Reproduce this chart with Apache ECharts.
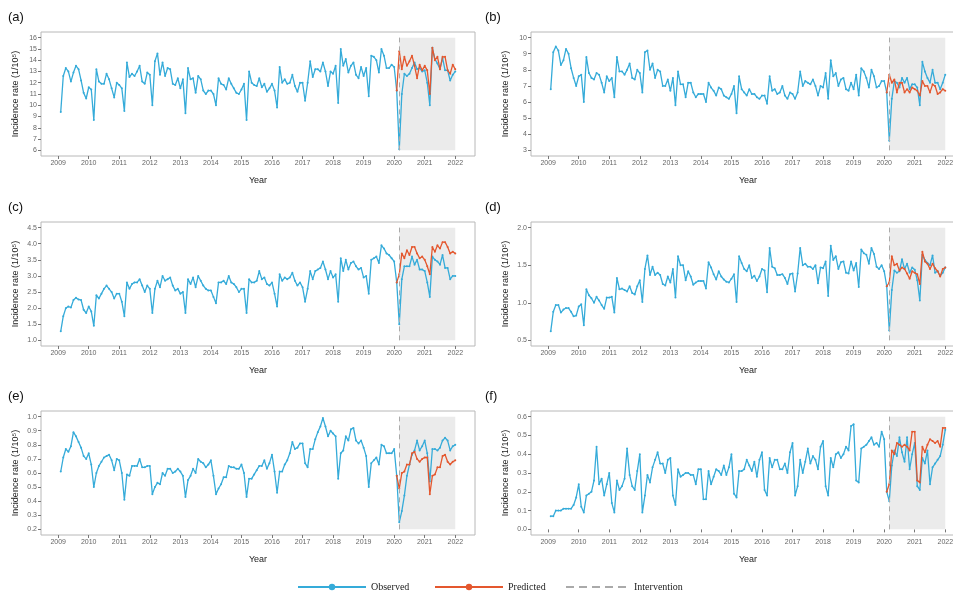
<!DOCTYPE html>
<html><head><meta charset="utf-8">
<script src="https://cdn.jsdelivr.net/npm/echarts@6/dist/echarts.min.js"></script>
<style>html,body{margin:0;padding:0;background:#fff}#c{width:953px;height:594px}</style>
</head><body><div id="c"></div>
<script>
// ---- data (monthly, Jan 2009 .. Dec 2021) ----
const panelLabels = ['(a)', '(b)', '(c)', '(d)', '(e)', '(f)'];
const xTickYears = [2009, 2010, 2011, 2012, 2013, 2014, 2015, 2016, 2017, 2018, 2019, 2020, 2021, 2022];
const startYear = 2009;
const nMonths = 156;
const predStartIndex = 132; // Jan 2020
const interventionX = 2020 + 2 / 12;
const shadeEndX = 2022;

const obsA = [
  9.4, 12.6, 13.3, 13.0, 12.1, 12.9, 13.5, 13.2, 12.2, 11.1, 10.6, 11.6,
  11.4, 8.7, 13.2, 12.1, 11.9, 11.9, 12.8, 12.3, 11.5, 10.7, 12.0, 11.8,
  11.5, 9.5, 13.8, 12.5, 12.8, 12.6, 13.0, 13.5, 12.1, 11.9, 12.9, 12.7,
  10.0, 13.9, 14.6, 12.7, 13.8, 12.6, 13.3, 13.2, 11.9, 11.8, 12.4, 11.5,
  12.3, 9.3, 13.3, 12.3, 12.4, 11.1, 12.6, 12.3, 11.3, 11.0, 11.3, 11.3,
  11.0, 10.0, 12.4, 11.9, 11.8, 11.4, 12.4, 11.9, 11.5, 11.1, 11.0, 11.4,
  11.9, 8.7, 13.0, 12.0, 11.8, 11.7, 12.4, 11.6, 11.9, 11.2, 11.5, 11.9,
  11.3, 9.8, 13.4, 12.0, 12.3, 11.9, 12.0, 12.7, 11.7, 11.2, 12.0, 12.0,
  10.4, 12.0, 13.9, 12.5, 13.2, 13.2, 13.0, 13.8, 13.0, 11.7, 13.0, 12.8,
  13.5, 10.2, 15.0, 13.5, 14.1, 12.9, 13.5, 13.8, 12.7, 12.4, 13.4, 12.6,
  13.3, 10.8, 14.4, 14.3, 14.0, 12.9, 15.0, 14.4, 13.3, 13.3, 13.6, 13.4,
  11.3, 6.1, 11.0, 12.8, 12.6, 12.8, 13.3, 13.8, 13.2, 13.3, 13.0, 13.1,
  12.0, 10.0, 15.1, 14.1, 13.7, 13.2, 14.2, 13.1, 13.1, 12.2, 12.7, 13.0
];
const predA = [
  11.3, 14.8, 13.2, 14.3, 13.5, 13.9, 14.4, 13.5, 12.4, 13.6, 13.1, 13.5,
  13.1, 11.0, 15.1, 14.0, 14.3, 13.2, 14.3, 14.3, 13.1, 12.8, 13.6, 13.2
];
const obsB = [
  6.8, 9.1, 9.45, 9.2, 8.3, 8.6, 9.3, 9.0, 8.1, 7.5, 7.0, 7.6,
  7.7, 6.0, 8.8, 7.8, 7.5, 7.4, 7.8, 7.7, 7.2, 6.6, 7.6, 7.3,
  7.5, 6.3, 8.8, 7.9, 7.9, 7.7, 8.0, 8.4, 7.5, 7.4, 8.0, 7.8,
  6.6, 9.1, 9.2, 8.0, 8.4, 7.5, 8.0, 7.9, 7.0, 7.0, 7.4, 6.7,
  7.5, 5.8, 7.9, 7.1, 7.1, 6.3, 7.2, 7.2, 6.6, 6.3, 6.5, 6.5,
  6.5, 6.0, 7.2, 6.9, 6.7, 6.4, 6.9, 6.8, 6.4, 6.3, 6.2, 6.5,
  7.0, 5.3, 7.6, 6.8, 6.6, 6.4, 6.8, 6.5, 6.5, 6.3, 6.2, 6.4,
  6.4, 5.9, 7.6, 6.7, 6.8, 6.5, 6.6, 7.0, 6.4, 6.2, 6.6, 6.5,
  6.2, 6.6, 7.9, 7.0, 7.3, 7.2, 7.1, 7.4, 7.0, 6.4, 7.0, 6.9,
  7.8, 6.2, 8.6, 7.6, 7.8, 7.0, 7.4, 7.5, 6.8, 6.7, 7.2, 6.8,
  7.7, 6.4, 8.1, 7.9, 7.5, 6.9, 8.0, 7.6, 6.9, 7.0, 7.3, 7.3,
  6.6, 3.6, 6.2, 7.3, 7.2, 6.9, 7.5, 7.2, 7.5, 6.8, 7.1, 7.1,
  6.9, 5.8, 8.5, 7.9, 7.5, 7.2, 8.0, 7.2, 7.2, 6.8, 7.2, 7.7
];
const predB = [
  6.6, 7.7, 7.2, 7.4, 6.6, 7.2, 7.2, 6.6, 6.8, 6.6, 6.9, 6.8,
  6.7, 6.4, 7.3, 7.0, 7.0, 6.6, 7.1, 7.0, 6.5, 6.6, 6.8, 6.7
];
const obsC = [
  1.28, 1.75, 2.0, 2.05, 2.02, 2.25, 2.32, 2.27, 2.25, 1.95, 1.85, 2.05,
  1.9, 1.45, 2.4, 2.3, 2.45, 2.6, 2.7, 2.6, 2.5, 2.3, 2.45, 2.45,
  2.2, 1.75, 2.8, 2.6, 2.75, 2.8, 2.8, 2.9, 2.7, 2.5, 2.7, 2.6,
  1.85, 2.6, 2.85, 2.65, 3.0, 2.85, 2.9, 2.95, 2.7, 2.55, 2.6, 2.45,
  2.5, 1.85, 2.9, 2.75, 2.95, 2.65, 3.0, 2.85, 2.7, 2.6, 2.55, 2.55,
  2.35, 2.15, 2.8, 2.8, 2.85, 2.75, 3.0, 2.8, 2.75, 2.65, 2.5, 2.6,
  2.6, 1.85, 2.9, 2.8, 2.8, 2.85, 3.15, 2.9, 2.95, 2.75, 2.7, 2.8,
  2.45, 2.05, 3.05, 2.85, 2.95, 2.9, 2.95, 3.1, 2.85, 2.7, 2.8, 2.65,
  2.2, 2.6, 3.15, 2.9, 3.15, 3.2, 3.25, 3.45, 3.2, 2.9, 3.15, 2.95,
  3.05, 2.2, 3.55, 3.15, 3.5, 3.2, 3.4, 3.45, 3.3, 3.2, 3.25, 2.95,
  3.0, 2.45, 3.5, 3.55, 3.6, 3.4, 3.95, 3.85, 3.7, 3.65, 3.55, 3.45,
  2.8, 1.5, 2.9, 3.3, 3.3, 3.3, 3.6, 3.35, 3.5, 3.2, 3.2, 3.15,
  2.8, 2.35, 3.6, 3.5, 3.45, 3.35, 3.65, 3.25, 3.25, 2.9, 3.0, 3.0
];
const predC = [
  2.8, 3.05, 3.7, 3.55, 3.8, 3.65, 3.9, 3.9, 3.7, 3.55, 3.6, 3.5,
  3.3, 3.05, 3.9, 3.75, 3.95, 3.85, 4.05, 4.05, 3.9, 3.7, 3.75, 3.7
];
const obsD = [
  0.62, 0.88, 0.97, 0.97, 0.87, 0.91, 0.93, 0.93, 0.88, 0.82, 0.83, 0.95,
  0.98, 0.70, 1.18, 1.10, 1.06, 1.00, 1.08, 1.03, 0.97, 0.92, 1.07, 1.07,
  1.08, 0.87, 1.33, 1.18, 1.19, 1.17, 1.15, 1.22, 1.13, 1.11, 1.22, 1.30,
  1.01, 1.45, 1.63, 1.37, 1.48, 1.37, 1.40, 1.37, 1.25, 1.23, 1.35, 1.27,
  1.45, 1.07, 1.62, 1.50, 1.50, 1.30, 1.42, 1.35, 1.24, 1.27, 1.29, 1.29,
  1.29, 1.19, 1.54, 1.47, 1.38, 1.31, 1.42, 1.35, 1.31, 1.28, 1.27, 1.32,
  1.38, 1.01, 1.62, 1.53, 1.45, 1.42, 1.50, 1.33, 1.36, 1.29, 1.35, 1.45,
  1.43, 1.14, 1.73, 1.48, 1.46, 1.37, 1.37, 1.38, 1.33, 1.25, 1.38, 1.39,
  1.15, 1.39, 1.73, 1.50, 1.52, 1.48, 1.48, 1.45, 1.50, 1.26, 1.47, 1.46,
  1.55, 1.09, 1.76, 1.57, 1.62, 1.45, 1.54, 1.55, 1.40, 1.39, 1.55, 1.43,
  1.53, 1.21, 1.71, 1.66, 1.64, 1.52, 1.73, 1.65, 1.48, 1.45, 1.50, 1.42,
  1.22, 0.63, 1.17, 1.43, 1.40, 1.42, 1.58, 1.45, 1.52, 1.40, 1.47, 1.44,
  1.30, 1.03, 1.64, 1.57, 1.53, 1.50, 1.63, 1.40, 1.42, 1.36, 1.40, 1.47
];
const predD = [
  1.22, 1.27, 1.62, 1.50, 1.52, 1.43, 1.47, 1.45, 1.39, 1.32, 1.42, 1.40,
  1.38, 1.25, 1.68, 1.55, 1.52, 1.45, 1.52, 1.46, 1.42, 1.35, 1.45, 1.47
];
const obsE = [
  0.61, 0.71, 0.77, 0.75, 0.79, 0.89, 0.86, 0.82, 0.78, 0.72, 0.70, 0.74,
  0.66, 0.50, 0.60, 0.65, 0.68, 0.71, 0.72, 0.73, 0.69, 0.62, 0.70, 0.69,
  0.60, 0.41, 0.59, 0.58, 0.65, 0.65, 0.65, 0.70, 0.64, 0.64, 0.65, 0.65,
  0.45, 0.50, 0.53, 0.52, 0.60, 0.58, 0.63, 0.63, 0.60, 0.61, 0.63, 0.61,
  0.58, 0.43, 0.55, 0.58, 0.63, 0.60, 0.70, 0.68, 0.67, 0.64, 0.66, 0.69,
  0.58, 0.45, 0.49, 0.52, 0.57, 0.57, 0.65, 0.64, 0.64, 0.63, 0.63, 0.66,
  0.60, 0.43, 0.56, 0.56, 0.59, 0.62, 0.65, 0.65, 0.69, 0.63, 0.67, 0.73,
  0.61, 0.46, 0.61, 0.61, 0.66, 0.69, 0.74, 0.82, 0.77, 0.78, 0.81, 0.81,
  0.67, 0.64, 0.77, 0.77, 0.84, 0.89, 0.93, 0.99, 0.93, 0.86, 0.90, 0.88,
  0.86, 0.56, 0.74, 0.76, 0.86, 0.83, 0.91, 0.92, 0.83, 0.81, 0.83, 0.78,
  0.72, 0.50, 0.67, 0.69, 0.71, 0.66, 0.80, 0.79, 0.74, 0.74, 0.74, 0.77,
  0.58, 0.25, 0.33, 0.44, 0.58, 0.66, 0.73, 0.76, 0.83, 0.76, 0.79, 0.83,
  0.74, 0.54, 0.77, 0.77, 0.76, 0.78, 0.83, 0.85, 0.83, 0.76, 0.79, 0.80
];
const predE = [
  0.58, 0.49, 0.60, 0.61, 0.66, 0.66, 0.74, 0.75, 0.70, 0.68, 0.70, 0.71,
  0.71, 0.45, 0.58, 0.59, 0.64, 0.64, 0.72, 0.73, 0.68, 0.66, 0.68, 0.69
];
const obsF = [
  0.07, 0.07, 0.10, 0.10, 0.10, 0.11, 0.11, 0.11, 0.11, 0.13, 0.17, 0.24,
  0.12, 0.09, 0.18, 0.19, 0.20, 0.26, 0.44, 0.24, 0.27, 0.18, 0.24, 0.30,
  0.14, 0.09, 0.26, 0.21, 0.23, 0.27, 0.43, 0.29, 0.23, 0.21, 0.31, 0.40,
  0.09, 0.18, 0.29, 0.25, 0.33, 0.37, 0.41, 0.35, 0.35, 0.30, 0.37, 0.38,
  0.18, 0.13, 0.32, 0.28, 0.29, 0.30, 0.30, 0.29, 0.29, 0.24, 0.32, 0.32,
  0.16, 0.16, 0.31, 0.24, 0.28, 0.32, 0.31, 0.29, 0.34, 0.29, 0.33, 0.40,
  0.19, 0.17, 0.31, 0.31, 0.32, 0.37, 0.34, 0.31, 0.36, 0.28, 0.37, 0.41,
  0.21, 0.18, 0.38, 0.33, 0.37, 0.37, 0.32, 0.32, 0.35, 0.30, 0.41, 0.46,
  0.18, 0.23, 0.37, 0.30, 0.36, 0.43, 0.35, 0.39, 0.37, 0.32, 0.44, 0.47,
  0.23, 0.18, 0.38, 0.33, 0.40, 0.41, 0.38, 0.40, 0.44, 0.42, 0.55, 0.56,
  0.26, 0.25, 0.43, 0.44, 0.45, 0.47, 0.49, 0.45, 0.46, 0.44, 0.52, 0.48,
  0.20, 0.15, 0.34, 0.42, 0.39, 0.49, 0.41, 0.36, 0.49, 0.32, 0.40, 0.46,
  0.23, 0.21, 0.38, 0.35, 0.42, 0.24, 0.33, 0.35, 0.37, 0.39, 0.45, 0.53
];
const predF = [
  0.20, 0.24, 0.42, 0.40, 0.46, 0.45, 0.44, 0.45, 0.44, 0.42, 0.52, 0.52,
  0.26, 0.25, 0.44, 0.41, 0.45, 0.48, 0.47, 0.46, 0.47, 0.44, 0.54, 0.54
];

const yTicksA = [6, 7, 8, 9, 10, 11, 12, 13, 14, 15, 16];
const yTicksB = [3, 4, 5, 6, 7, 8, 9, 10];
const yTicksC = [1.0, 1.5, 2.0, 2.5, 3.0, 3.5, 4.0, 4.5];
const yTicksD = [0.5, 1.0, 1.5, 2.0];
const yTicksE = [0.2, 0.3, 0.4, 0.5, 0.6, 0.7, 0.8, 0.9, 1.0];
const yTicksF = [0.0, 0.1, 0.2, 0.3, 0.4, 0.5, 0.6];

// ---- build ----
const observedSets = [obsA, obsB, obsC, obsD, obsE, obsF];
const predictedSets = [predA, predB, predC, predD, predE, predF];
const yTickSets = [yTicksA, yTicksB, yTicksC, yTicksD, yTicksE, yTicksF];
const decimals = [0, 0, 1, 1, 1, 1];

const xs = Array.from({length: nMonths}, (_, i) => startYear + (i + 1) / 12);
const FONT = 'Liberation Sans, Arial, sans-serif';
const OBS_COLOR = '#35abd9';
const PRED_COLOR = '#e4572e';

const colLeft = [41, 531];
const rowTop = [32, 222, 411];
const gW = 434, gH = 124;

function expandRange(ticks) {
  const lo = ticks[0], hi = ticks[ticks.length - 1];
  const pad = (hi - lo) * 0.05;
  return [lo - pad, hi + pad];
}
const xLo = xs[0] - (xs[nMonths - 1] - xs[0]) * 0.05;
const xHi = xs[nMonths - 1] + (xs[nMonths - 1] - xs[0]) * 0.05;

const grids = [], xAxes = [], yAxes = [], series = [], graphics = [];
for (let p = 0; p < 6; p++) {
  const col = p % 2, row = Math.floor(p / 2);
  grids.push({left: colLeft[col], top: rowTop[row], width: gW, height: gH,
    outerBoundsMode: 'none', containLabel: false,
    show: true, borderColor: '#b8b8b8', borderWidth: 1, backgroundColor: '#fff'});
  xAxes.push({
    type: 'value', gridIndex: p, min: xLo, max: xHi,
    name: 'Year', nameLocation: 'middle', nameGap: 20,
    nameTextStyle: {fontFamily: FONT, fontSize: 9, color: '#222'},
    axisLine: {show: false},
    axisTick: {show: true, length: 3, lineStyle: {color: '#777'}, customValues: xTickYears},
    axisLabel: {fontFamily: FONT, fontSize: 7, color: '#666', margin: 4, customValues: xTickYears,
      hideOverlap: false, formatter: v => String(Math.round(v))},
    splitLine: {show: false}
  });
  const ticks = yTickSets[p];
  const yr = expandRange(ticks);
  yAxes.push({
    type: 'value', gridIndex: p, min: yr[0], max: yr[1],
    name: 'Incidence rate (1/10\u2075)', nameLocation: 'middle', nameGap: 21,
    nameTextStyle: {fontFamily: FONT, fontSize: 9, color: '#222'},
    axisLine: {show: false},
    axisTick: {show: true, length: 3, lineStyle: {color: '#777'}, customValues: ticks},
    axisLabel: {fontFamily: FONT, fontSize: 7, color: '#666', margin: 4, customValues: ticks,
      formatter: (v => (val => Number(val).toFixed(decimals[v])))(p)},
    splitLine: {show: false}
  });
  const lo = ticks[0], hi = ticks[ticks.length - 1];
  series.push({
    name: 'Intervention', type: 'line', xAxisIndex: p, yAxisIndex: p, data: [],
    symbol: 'none', z: 1,
    lineStyle: {color: '#aaaaaa', type: [8, 5], width: 1.3},
    itemStyle: {color: '#aaaaaa'},
    markArea: {silent: true, itemStyle: {color: '#ebebeb'},
      data: [[{coord: [interventionX, lo]}, {coord: [shadeEndX, hi]}]]},
    markLine: {silent: true, symbol: 'none', label: {show: false},
      lineStyle: {color: '#aaaaaa', type: [5, 4], width: 1},
      data: [[{coord: [interventionX, lo]}, {coord: [interventionX, hi]}]]}
  });
  series.push({
    name: 'Observed', type: 'line', xAxisIndex: p, yAxisIndex: p, z: 2,
    data: xs.map((x, i) => [x, observedSets[p][i]]),
    symbol: 'circle', symbolSize: 2, showSymbol: true,
    lineStyle: {color: OBS_COLOR, width: 1.3}, itemStyle: {color: OBS_COLOR}
  });
  series.push({
    name: 'Predicted', type: 'line', xAxisIndex: p, yAxisIndex: p, z: 3,
    data: xs.slice(predStartIndex).map((x, i) => [x, predictedSets[p][i]]),
    symbol: 'circle', symbolSize: 2, showSymbol: true,
    lineStyle: {color: PRED_COLOR, width: 1.3}, itemStyle: {color: PRED_COLOR}
  });
  graphics.push({type: 'text', left: col === 0 ? 8 : 485, top: rowTop[row] - 21,
    style: {text: panelLabels[p], font: '13px ' + FONT, fill: '#111'}});
}

const legendBase = {top: 582, itemHeight: 8, orient: 'horizontal', padding: 0,
  textStyle: {fontFamily: 'Liberation Serif, Times New Roman, serif', fontSize: 10, color: '#222'}};
const chart = echarts.init(document.getElementById('c'), null, {renderer: 'canvas'});
chart.setOption({
  animation: false,
  backgroundColor: '#fff',
  grid: grids, xAxis: xAxes, yAxis: yAxes, series: series,
  legend: [
    Object.assign({}, legendBase, {data: ['Observed'], left: 297, itemWidth: 68}),
    Object.assign({}, legendBase, {data: ['Predicted'], left: 434, itemWidth: 68}),
    Object.assign({}, legendBase, {data: [{name: 'Intervention',
      itemStyle: {opacity: 0, borderWidth: 0}}], left: 565, itemWidth: 63})
  ],
  graphic: graphics
});
</script></body></html>
